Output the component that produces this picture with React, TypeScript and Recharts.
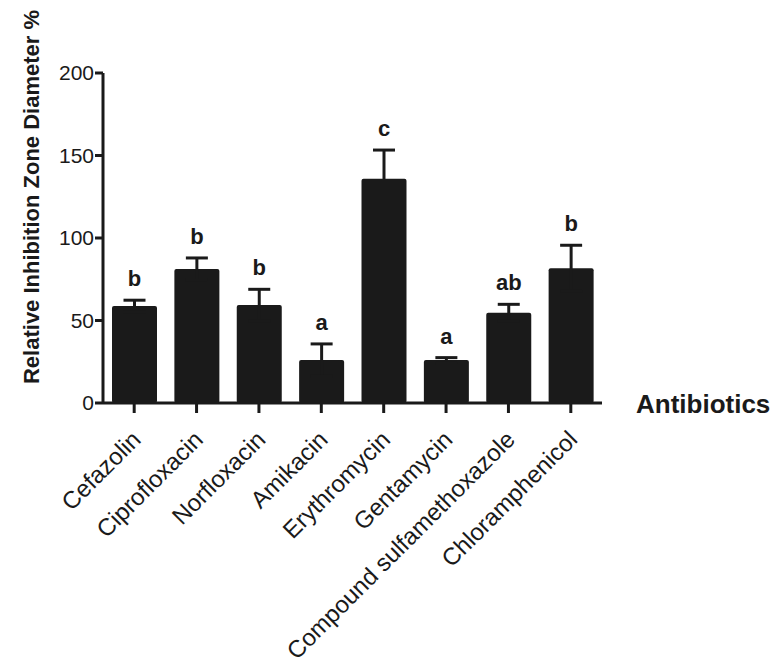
import React from 'react';
import { BarChart, Bar, XAxis, YAxis, ErrorBar, LabelList } from 'recharts';

const categories = [
  'Cefazolin',
  'Ciprofloxacin',
  'Norfloxacin',
  'Amikacin',
  'Erythromycin',
  'Gentamycin',
  'Compound sulfamethoxazole',
  'Chloramphenicol',
];
const means = [58.8, 81.2, 59.4, 26, 135.9, 26, 54.7, 81.6];
const errors = [3.5, 6.7, 9.5, 9.8, 17.4, 1.5, 5.1, 14];
const letters = ['b', 'b', 'b', 'a', 'c', 'a', 'ab', 'b'];
const yTicks = [0, 50, 100, 150, 200];

const data = categories.map((name, i) => ({
  name,
  value: means[i],
  err: errors[i],
  letter: letters[i],
}));

const FONT = '"Liberation Sans", Arial, sans-serif';
const INK = '#1a1a1a';

const XTick = (props: any) => {
  const { x, y, payload } = props;
  const ax = x + 8;
  const ay = y + 26;
  return (
    <text
      x={ax}
      y={ay}
      textAnchor="end"
      transform={`rotate(-45, ${ax}, ${ay})`}
      fontSize={24}
      fontFamily={FONT}
      fill={INK}
    >
      {payload.value}
    </text>
  );
};

// letter sits above the top of the error bar
const LetterLabel = (props: any) => {
  const { x, y, width, height, index } = props;
  const d = data[index];
  const perUnit = height / d.value;
  const top = y - d.err * perUnit;
  return (
    <text
      x={x + width / 2}
      y={top - 14}
      textAnchor="middle"
      fontSize={22}
      fontWeight="bold"
      fontFamily={FONT}
      fill={INK}
    >
      {d.letter}
    </text>
  );
};

const YTitle = () => (
  <text
    x={39}
    y={197}
    textAnchor="middle"
    transform="rotate(-90, 39, 197)"
    fontSize={22}
    fontWeight="bold"
    fontFamily={FONT}
    fill={INK}
  >
    Relative Inhibition Zone Diameter %
  </text>
);

const XTitle = (props: any) => {
  const { viewBox } = props;
  return (
    <text
      x={viewBox.x + viewBox.width + 34}
      y={viewBox.y + 10}
      fontSize={26}
      fontWeight="bold"
      fontFamily={FONT}
      fill={INK}
    >
      Antibiotics
    </text>
  );
};

export default function App() {
  return (
    <div style={{ position: 'absolute', left: 0, top: 0, background: '#fff' }}>
      <BarChart
        width={773}
        height={663}
        data={data}
        margin={{ top: 73, right: 171, left: 0, bottom: 0 }}
      >
        <XAxis
          dataKey="name"
          interval={0}
          height={260}
          tick={<XTick />}
          tickSize={10}
          axisLine={{ stroke: INK, strokeWidth: 3 }}
          tickLine={{ stroke: INK, strokeWidth: 3 }}
          label={<XTitle />}
        />
        <YAxis
          domain={[0, 200]}
          ticks={yTicks}
          width={103}
          tickSize={8}
          tickMargin={1}
          tick={{ fontSize: 21, fontFamily: FONT, fill: INK }}
          axisLine={{ stroke: INK, strokeWidth: 3 }}
          tickLine={{ stroke: INK, strokeWidth: 3 }}
          label={<YTitle />}
        />
        <Bar dataKey="value" fill={INK} barSize={45} radius={2} isAnimationActive={false}>
          <ErrorBar dataKey="err" direction="y" width={11} stroke={INK} strokeWidth={3} />
          <LabelList dataKey="letter" content={<LetterLabel />} />
        </Bar>
      </BarChart>
    </div>
  );
}
